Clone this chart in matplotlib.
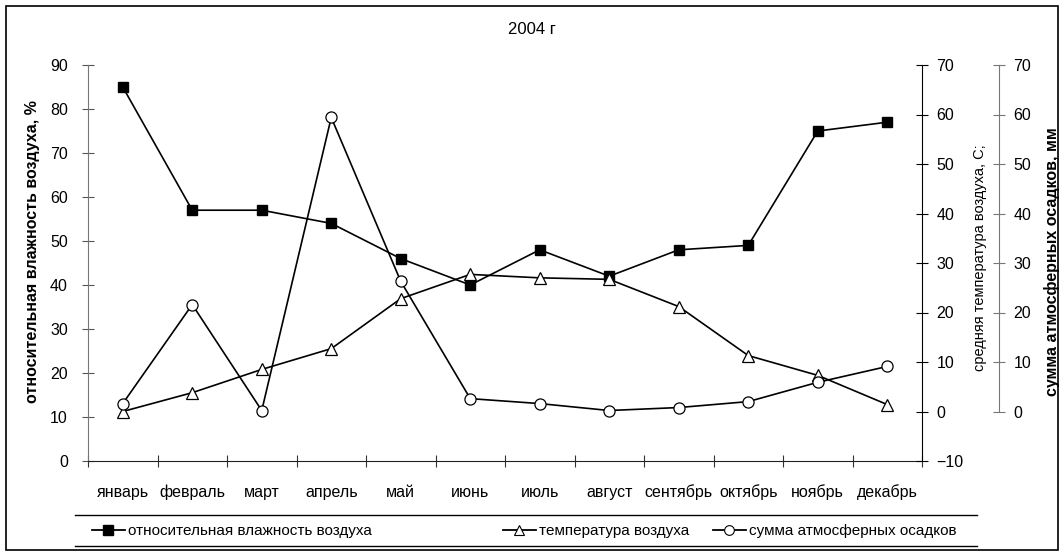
import matplotlib
matplotlib.use("Agg")
import matplotlib.pyplot as plt
from matplotlib.lines import Line2D
from matplotlib.patches import Rectangle

plt.rcParams['font.family'] = ['Liberation Sans', 'DejaVu Sans']

months = ["январь", "февраль", "март", "апрель", "май", "июнь", "июль",
          "август", "сентябрь", "октябрь", "ноябрь", "декабрь"]
humidity = [85, 57, 57, 54, 46, 40, 48, 42, 48, 49, 75, 77]
temperature = [0.0, 3.8, 8.5, 12.7, 22.8, 27.7, 27.0, 26.7, 21.2, 11.3, 7.3, 1.4]
precip = [1.6, 21.6, 0.2, 59.4, 26.3, 2.6, 1.6, 0.2, 0.8, 2.0, 5.9, 9.1]

title = "2004 г"
label_h = "относительная влажность воздуха, %"
label_t = "средняя температура воздуха, С;"
label_p = "сумма атмосферных осадков, мм"
leg_h = "относительная влажность воздуха"
leg_t = "температура воздуха"
leg_p = "сумма атмосферных осадков"

W, H = 1064, 556
fig = plt.figure(figsize=(W/100, H/100), dpi=100)
fig.patches.append(Rectangle((6/W, 6/H), 1052/W, 544/H, transform=fig.transFigure,
                             fill=False, edgecolor='black', linewidth=1.2))

x0, x1, y0, y1 = 88, 922, 461, 65
ax = fig.add_axes([x0/W, 1-y0/H, (x1-x0)/W, (y0-y1)/H])
x = list(range(len(months)))

ax.plot(x, humidity, color='black', lw=1.2, marker='s', ms=7,
        mfc='black', mec='black', zorder=3)
ax.set_xlim(-0.5, 11.5)
ax.set_ylim(0, 90)
ax.set_yticks(range(0, 91, 10))
ax.set_xticks([i - 0.5 for i in range(13)])
ax.set_xticklabels([])
ax.set_xticks(x, minor=True)
ax.set_xticklabels(months, minor=True, fontsize=11.5)
ax.tick_params(axis='x', which='minor', length=0, pad=17)
ax.tick_params(axis='x', which='major', direction='inout', length=9, color='#333333')
ax.tick_params(axis='y', direction='inout', length=9, color='#555555', labelsize=11.5, pad=10)
for s in ['top', 'right']:
    ax.spines[s].set_visible(False)
ax.spines['left'].set_color('#777777')
ax.spines['bottom'].set_color('#222222')
ax.set_ylabel(label_h, fontsize=11.5, fontweight='bold')
ax.yaxis.set_label_coords((40-x0)/(x1-x0), 0.53)
ax.patch.set_alpha(0)

ax2 = ax.twinx()
ax2.plot(x, temperature, color='black', lw=1.2, marker='^', ms=8,
         mfc='white', mec='black', mew=0.9, zorder=3)
ax2.set_ylim(-10, 70)
ax2.set_yticks(range(-10, 71, 10))
for s in ['top', 'left', 'bottom']:
    ax2.spines[s].set_visible(False)
ax2.spines['right'].set_color('black')
ax2.tick_params(axis='y', direction='inout', length=9, labelsize=11.5, pad=6)
ax2.set_ylabel(label_t, fontsize=10.5)
ax2.yaxis.set_label_coords((973-x0)/(x1-x0), 0.513)
ax2.patch.set_alpha(0)

ax3 = ax.twinx()
ax3.plot(x, precip, color='black', lw=1.2, marker='o', ms=8,
         mfc='white', mec='black', mew=0.9, zorder=4)
ax3.set_ylim(-10, 70)
ax3.set_yticks(range(0, 71, 10))
for s in ['top', 'left', 'bottom']:
    ax3.spines[s].set_visible(False)
ax3.spines['right'].set_position(('axes', (999-x0)/(x1-x0)))
ax3.spines['right'].set_bounds(0, 70)
ax3.spines['right'].set_color('#777777')
ax3.tick_params(axis='y', direction='inout', length=9, color='#777777', labelsize=11.5, pad=6)
ax3.set_ylabel(label_p, fontsize=11.5, fontweight='bold')
ax3.yaxis.set_label_coords((1044-x0)/(x1-x0), 0.503)
ax3.patch.set_alpha(0)

fig.text(532/W, 1-30/H, title, ha='center', va='center', fontsize=12)

# legend
for yl in (515, 546):
    fig.add_artist(Line2D([75/W, 977/W], [1-yl/H, 1-yl/H], color='black', lw=1,
                          transform=fig.transFigure))
h1 = Line2D([], [], color='black', lw=1.3, marker='s', ms=7, mfc='black', mec='black')
h2 = Line2D([], [], color='black', lw=1.3, marker='^', ms=7, mfc='white', mec='black', mew=0.8)
h3 = Line2D([], [], color='black', lw=1.3, marker='o', ms=7, mfc='white', mec='black', mew=0.8)
for h, lab, xp in [(h1, leg_h, 92), (h2, leg_t, 503), (h3, leg_p, 713)]:
    fig.legend([h], [lab], loc='center left', bbox_to_anchor=(xp/W, 1-531/H),
               frameon=False, fontsize=11, handlelength=2.15, handletextpad=0.2,
               borderaxespad=0, borderpad=0)

fig.savefig("out.png", dpi=100)
